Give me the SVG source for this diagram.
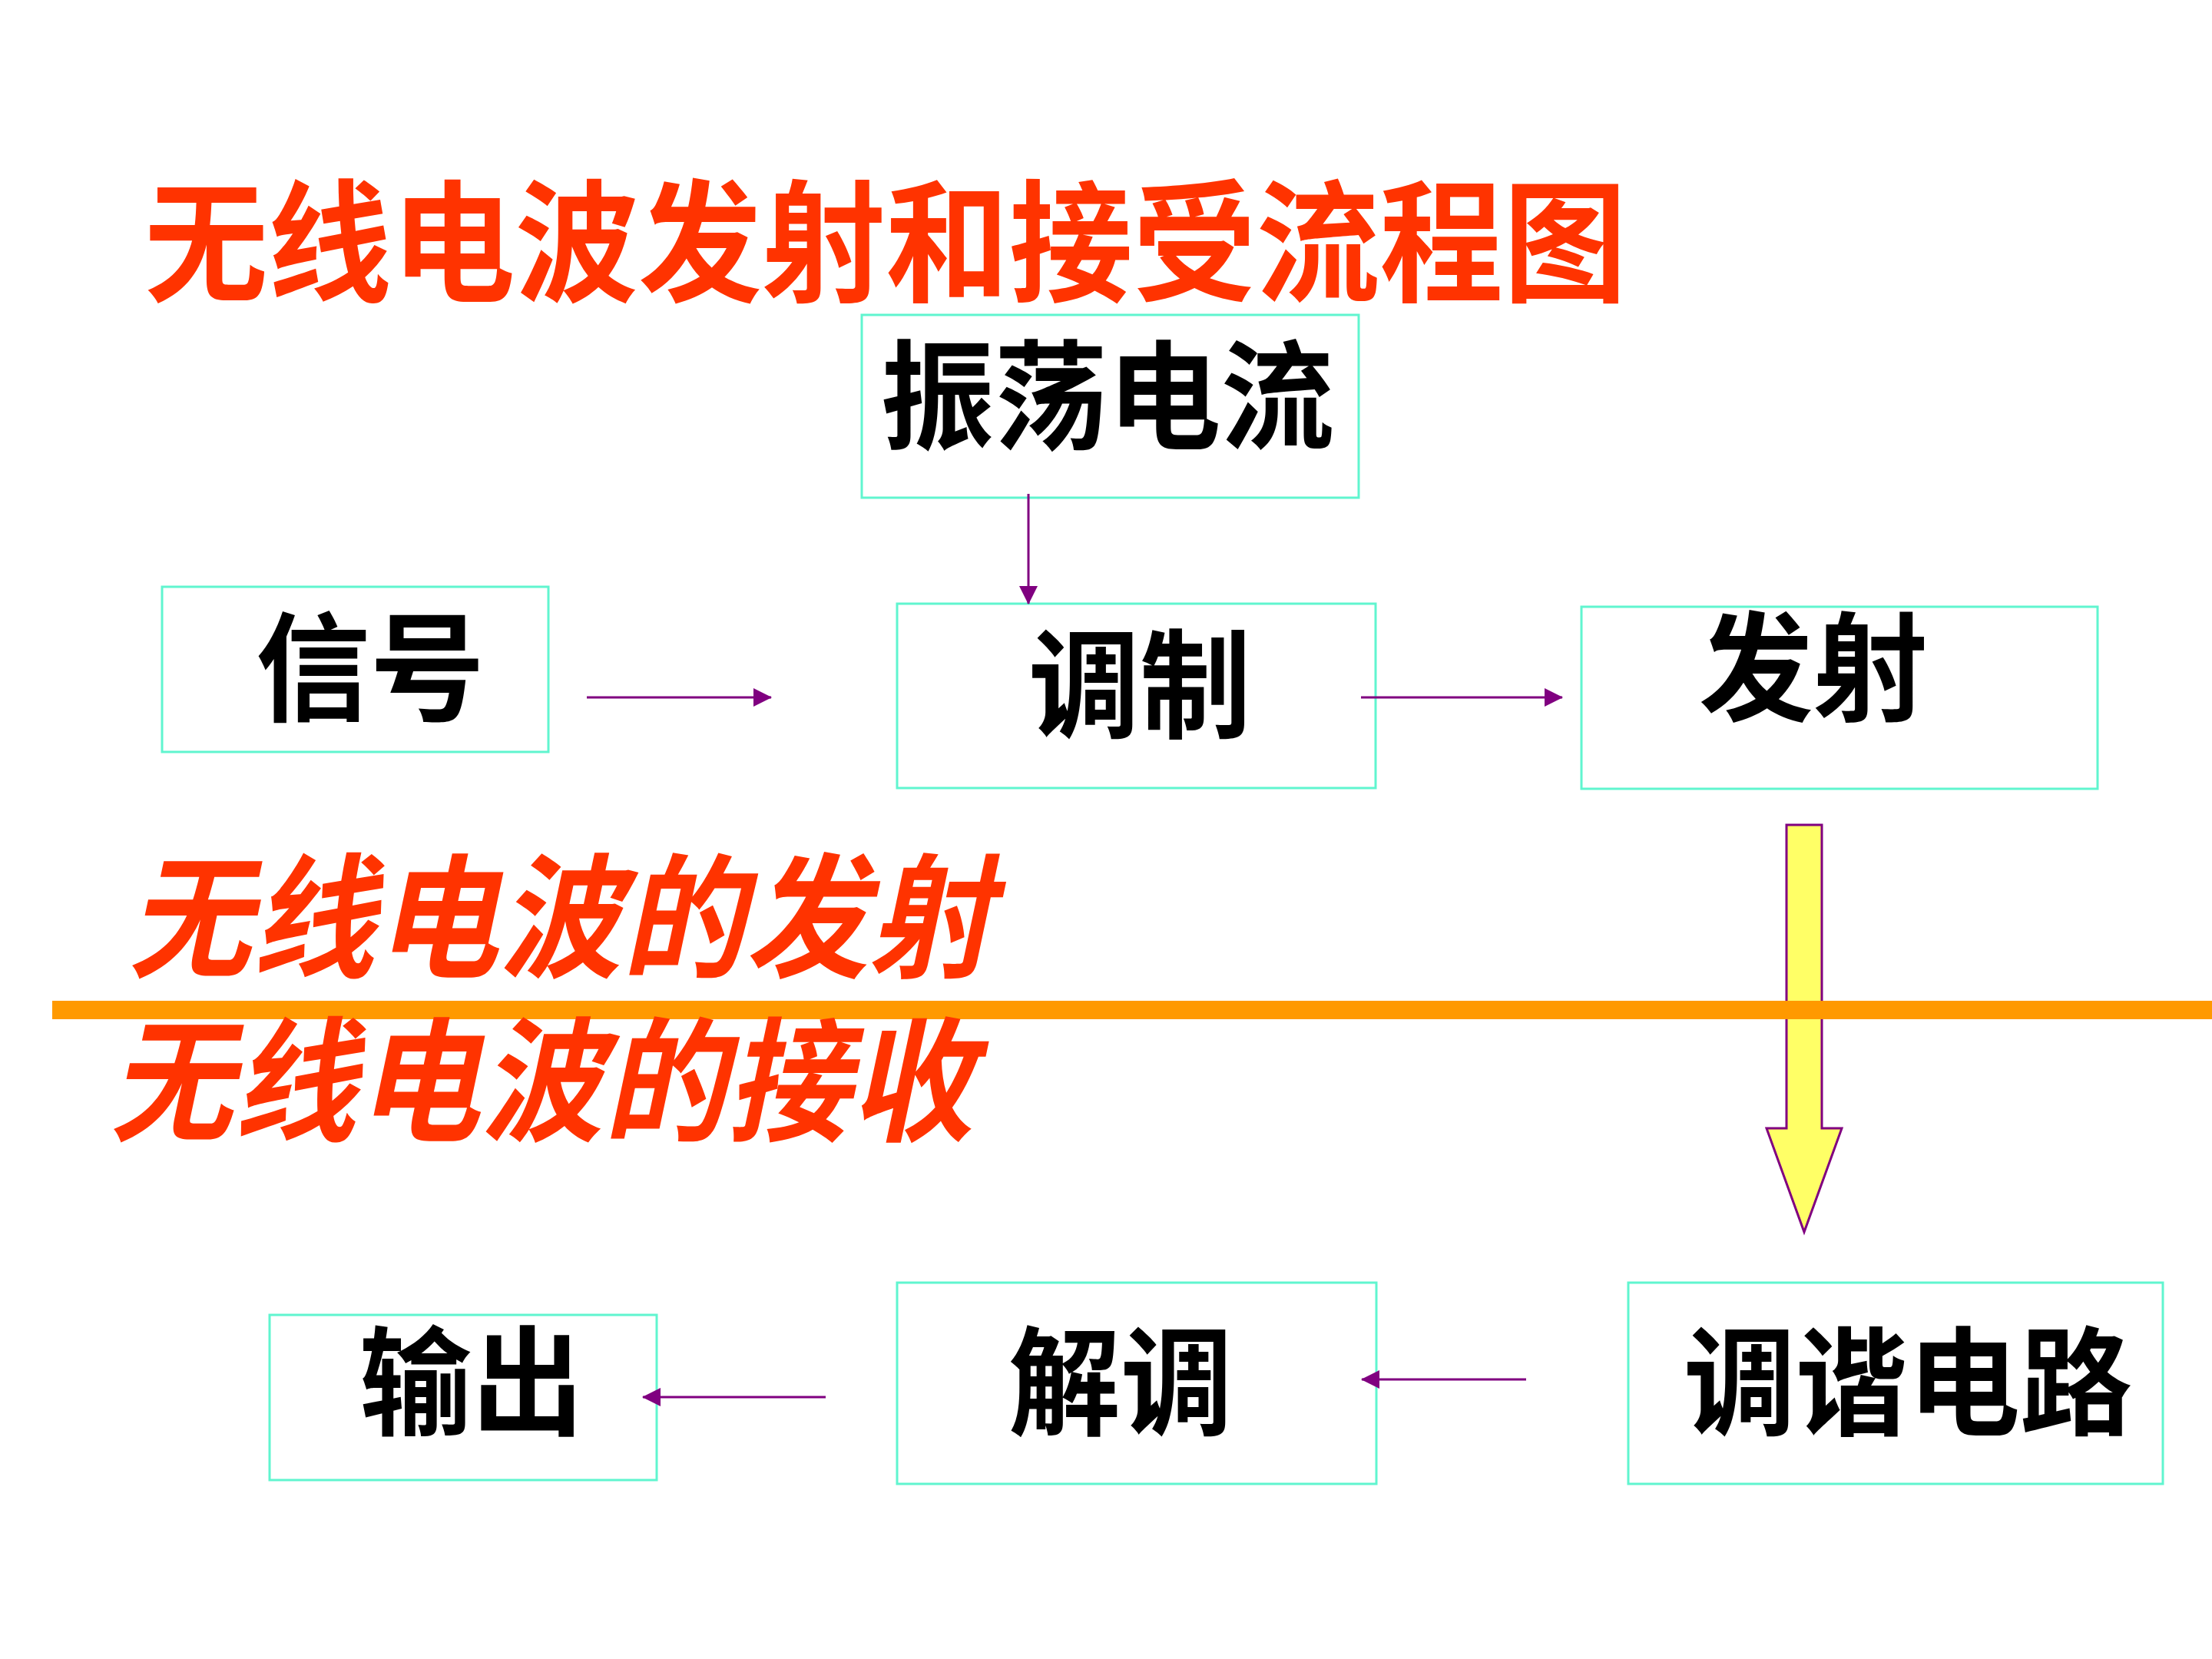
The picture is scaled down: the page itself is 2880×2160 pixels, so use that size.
<svg xmlns="http://www.w3.org/2000/svg" width="2880" height="2160" viewBox="0 0 2880 2160">
<defs>
<style>
.box{fill:#FFFFFF;stroke:#60F5CF;stroke-width:3}
.lbl{font-family:"Noto Sans CJK SC","Noto Sans CJK JP",sans-serif;font-weight:700;fill:#000000;font-size:154px}
.red{font-family:"Noto Sans CJK SC","Noto Sans CJK JP",sans-serif;font-weight:700;fill:#FF3300}
.con{stroke:#800080;stroke-width:3;fill:none;marker-end:url(#ah)}
</style>
<marker id="ah" markerUnits="userSpaceOnUse" markerWidth="24" markerHeight="24" refX="23" refY="12" orient="auto">
<path d="M0,0 L24,12 L0,24 Z" fill="#800080"/>
</marker>
</defs>
<rect width="2880" height="2160" fill="#FFFFFF"/>

<g id="title">
<text class="red" x="188" y="379" font-size="172" textLength="1930" lengthAdjust="spacingAndGlyphs">无线电波发射和接受流程图</text>
</g>

<g id="node-zhendang">
<rect class="box" x="1122" y="410" width="647" height="238"/>
<text class="lbl" x="1147" y="573" textLength="590" lengthAdjust="spacingAndGlyphs">振荡电流</text>
</g>
<g id="node-xinhao">
<rect class="box" x="211" y="764" width="503" height="215"/>
<text class="lbl" x="333" y="927" textLength="298" lengthAdjust="spacingAndGlyphs">信号</text>
</g>
<g id="node-tiaozhi">
<rect class="box" x="1168" y="786" width="623" height="240"/>
<text class="lbl" x="1339" y="949" textLength="290" lengthAdjust="spacingAndGlyphs">调制</text>
</g>
<g id="node-fashe">
<rect class="box" x="2059" y="790" width="672" height="237"/>
<text class="lbl" x="2212" y="927" textLength="298" lengthAdjust="spacingAndGlyphs">发射</text>
</g>
<g id="node-shuchu">
<rect class="box" x="351" y="1712" width="504" height="215"/>
<text class="lbl" x="468" y="1857" textLength="292" lengthAdjust="spacingAndGlyphs">输出</text>
</g>
<g id="node-jietiao">
<rect class="box" x="1168" y="1670" width="624" height="262"/>
<text class="lbl" x="1313" y="1857" textLength="292" lengthAdjust="spacingAndGlyphs">解调</text>
</g>
<g id="node-tiaoxie">
<rect class="box" x="2120" y="1670" width="696" height="262"/>
<text class="lbl" x="2192" y="1857" textLength="584" lengthAdjust="spacingAndGlyphs">调谐电路</text>
</g>

<g id="connectors">
<line class="con" x1="1339" y1="643" x2="1339" y2="786"/>
<line class="con" x1="764" y1="908" x2="1004" y2="908"/>
<line class="con" x1="1772" y1="908" x2="2034" y2="908"/>
<line class="con" x1="1987" y1="1796" x2="1773" y2="1796"/>
<line class="con" x1="1075" y1="1819" x2="837" y2="1819"/>
</g>

<g id="big-arrow">
<polygon points="2326,1074 2372,1074 2372,1469 2398,1469 2349,1604 2300,1469 2326,1469" fill="#FFFF66" stroke="#800080" stroke-width="3"/>
</g>

<g id="divider">
<rect x="68" y="1303" width="2812" height="24" fill="#FF9900"/>
</g>

<g id="section-labels">
<text class="red" font-size="175" transform="translate(167,1259) skewX(-12)" x="0" y="0" textLength="1125" lengthAdjust="spacingAndGlyphs">无线电波的发射</text>
<text class="red" font-size="175" transform="translate(143,1472) skewX(-12)" x="0" y="0" textLength="1125" lengthAdjust="spacingAndGlyphs">无线电波的接收</text>
</g>
</svg>
